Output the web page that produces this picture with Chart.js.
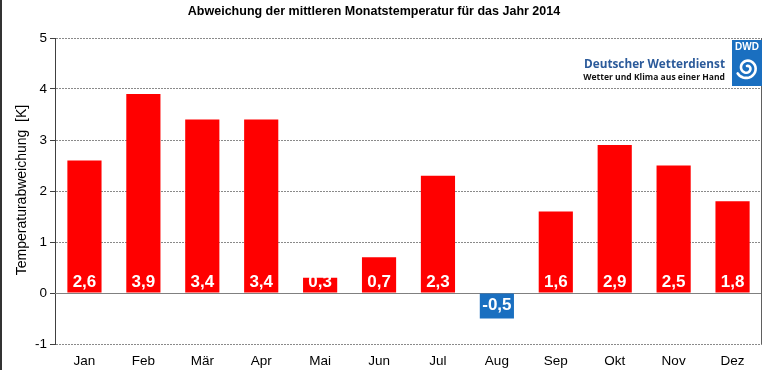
<!DOCTYPE html>
<html lang="de">
<head>
<meta charset="utf-8">
<title>Abweichung der mittleren Monatstemperatur 2014</title>
<script src="https://cdn.jsdelivr.net/npm/chart.js"></script>
<style>
  html, body { margin: 0; padding: 0; background: #fff; }
  #wrap { width: 768px; height: 370px; position: relative; }
</style>
</head>
<body>
<div id="wrap"><canvas id="chart"></canvas></div>
<script>
// Monate und Abweichungen (K) gegenüber dem Mittel
var months = ["Jan", "Feb", "Mär", "Apr", "Mai", "Jun", "Jul", "Aug", "Sep", "Okt", "Nov", "Dez"];
var anomaly = [2.6, 3.9, 3.4, 3.4, 0.3, 0.7, 2.3, -0.5, 1.6, 2.9, 2.5, 1.8];
var yTicks = [-1, 0, 1, 2, 3, 4, 5];

var chartTitle = "Abweichung der mittleren Monatstemperatur für das Jahr 2014";
var yTitle = "Temperaturabweichung  [K]";

var RED = "#ff0000";
var BLUE = "#1a6fc0";

// Text so skalieren, dass er in eine Breite passt
function fitFont(ctx, text, weight, family, width) {
    ctx.font = weight + " 20px " + family;
    var size = 20 * width / ctx.measureText(text).width;
    ctx.font = weight + " " + size.toFixed(2) + "px " + family;
}

// Titel, Achsentitel, Rahmen, Nulllinie, Logo
var decorations = {
    id: "decorations",
    beforeDatasetsDraw: function(chart) {
        var ctx = chart.ctx, a = chart.chartArea;
        var y0 = chart.scales.y.getPixelForValue(0);
        ctx.save();
        ctx.strokeStyle = "#808080";
        ctx.lineWidth = 1;
        ctx.beginPath();
        ctx.moveTo(a.left, Math.round(y0) + 0.5);
        ctx.lineTo(a.right, Math.round(y0) + 0.5);
        ctx.stroke();
        // rechter Rahmen
        ctx.strokeStyle = "#606060";
        ctx.beginPath();
        ctx.moveTo(Math.round(a.right) - 0.5, a.top);
        ctx.lineTo(Math.round(a.right) - 0.5, a.bottom);
        ctx.stroke();
        ctx.restore();
    },
    afterDatasetsDraw: function(chart) {
        var ctx = chart.ctx, a = chart.chartArea;
        var meta = chart.getDatasetMeta(0);
        var y0 = chart.scales.y.getPixelForValue(0);
        ctx.save();
        // Werte in den Balken
        ctx.fillStyle = "#ffffff";
        ctx.font = "bold 17px 'Liberation Sans', Arial, sans-serif";
        ctx.textAlign = "center";
        ctx.textBaseline = "middle";
        meta.data.forEach(function(bar, i) {
            var v = anomaly[i];
            var txt = v.toFixed(1).replace(".", ",");
            var ty = v >= 0 ? y0 - 11 : (y0 + bar.y) / 2;
            ctx.fillText(txt, bar.x, ty);
        });

        // Titel
        ctx.fillStyle = "#000";
        ctx.font = "bold 12.5px 'Liberation Sans', Arial, sans-serif";
        ctx.textBaseline = "middle";
        ctx.fillText(chartTitle, 374, 12);

        // y-Achsentitel
        ctx.save();
        ctx.translate(22, 190);
        ctx.rotate(-Math.PI / 2);
        ctx.font = "14px 'Liberation Sans', Arial, sans-serif";
        ctx.fillText(yTitle, 0, 0);
        ctx.restore();

        // linker Bildrand
        ctx.fillStyle = "#333";
        ctx.fillRect(0, 0, 2, 370);

        // DWD Logo
        ctx.fillStyle = "#ffffff";
        ctx.fillRect(575, 39, 186, 48);
        ctx.textAlign = "right";
        ctx.textBaseline = "alphabetic";
        ctx.fillStyle = "#2b5a9a";
        fitFont(ctx, "Deutscher Wetterdienst", "bold", "'Open Sans', 'Liberation Sans', sans-serif", 141);
        ctx.fillText("Deutscher Wetterdienst", 725, 68);
        ctx.fillStyle = "#111";
        fitFont(ctx, "Wetter und Klima aus einer Hand", "bold", "'Open Sans', 'Liberation Sans', sans-serif", 142);
        ctx.fillText("Wetter und Klima aus einer Hand", 725, 80);

        ctx.fillStyle = BLUE;
        ctx.fillRect(732, 40, 30, 46);
        ctx.fillStyle = "#fff";
        ctx.font = "bold 10px 'Liberation Sans', Arial, sans-serif";
        ctx.textAlign = "center";
        ctx.fillText("DWD", 747, 50);
        // Spirale
        ctx.strokeStyle = "#fff";
        ctx.lineWidth = 2.6;
        ctx.lineCap = "round";
        ctx.beginPath();
        for (var t = 0; t <= 1; t += 0.02) {
            var ang = -Math.PI / 2 + t * Math.PI * 3.4;
            var r = 2 + t * 9;
            var px = 747 + r * Math.cos(ang);
            var py = 68 + r * Math.sin(ang);
            if (t === 0) ctx.moveTo(px, py); else ctx.lineTo(px, py);
        }
        ctx.stroke();
        ctx.restore();
    }
};

var chart = new Chart(document.getElementById("chart"), {
    type: "bar",
    data: {
        labels: months,
        datasets: [{
            data: anomaly,
            backgroundColor: anomaly.map(function(v) { return v < 0 ? BLUE : RED; }),
            borderWidth: 0,
            categoryPercentage: 1.0,
            barPercentage: 0.58
        }]
    },
    options: {
        responsive: true,
        maintainAspectRatio: false,
        animation: false,
        events: [],
        layout: { padding: { left: 0, right: 6, top: 38, bottom: 0 } },
        plugins: {
            legend: { display: false },
            tooltip: { enabled: false },
            title: { display: false }
        },
        scales: {
            x: {
                grid: { display: false, drawTicks: false },
                border: { display: false },
                ticks: {
                    color: "#000",
                    padding: 9,
                    font: { family: "'Liberation Sans', Arial, sans-serif", size: 13.5 }
                },
                afterFit: function(scale) { scale.height = 26; }
            },
            y: {
                min: -1,
                max: 5,
                afterBuildTicks: function(scale) {
                    scale.ticks = yTicks.map(function(v) { return { value: v }; });
                },
                grid: {
                    color: "#8a8a8a",
                    lineWidth: 1,
                    tickLength: 5,
                    tickColor: "#404040",
                    tickBorderDash: []
                },
                border: { display: true, color: "#404040", width: 1, dash: [2, 1] },
                ticks: {
                    color: "#000",
                    padding: 3,
                    font: { family: "'Liberation Sans', Arial, sans-serif", size: 13.5 }
                },
                afterFit: function(scale) { scale.width = 55; }
            }
        }
    },
    plugins: [decorations]
});
</script>
</body>
</html>
